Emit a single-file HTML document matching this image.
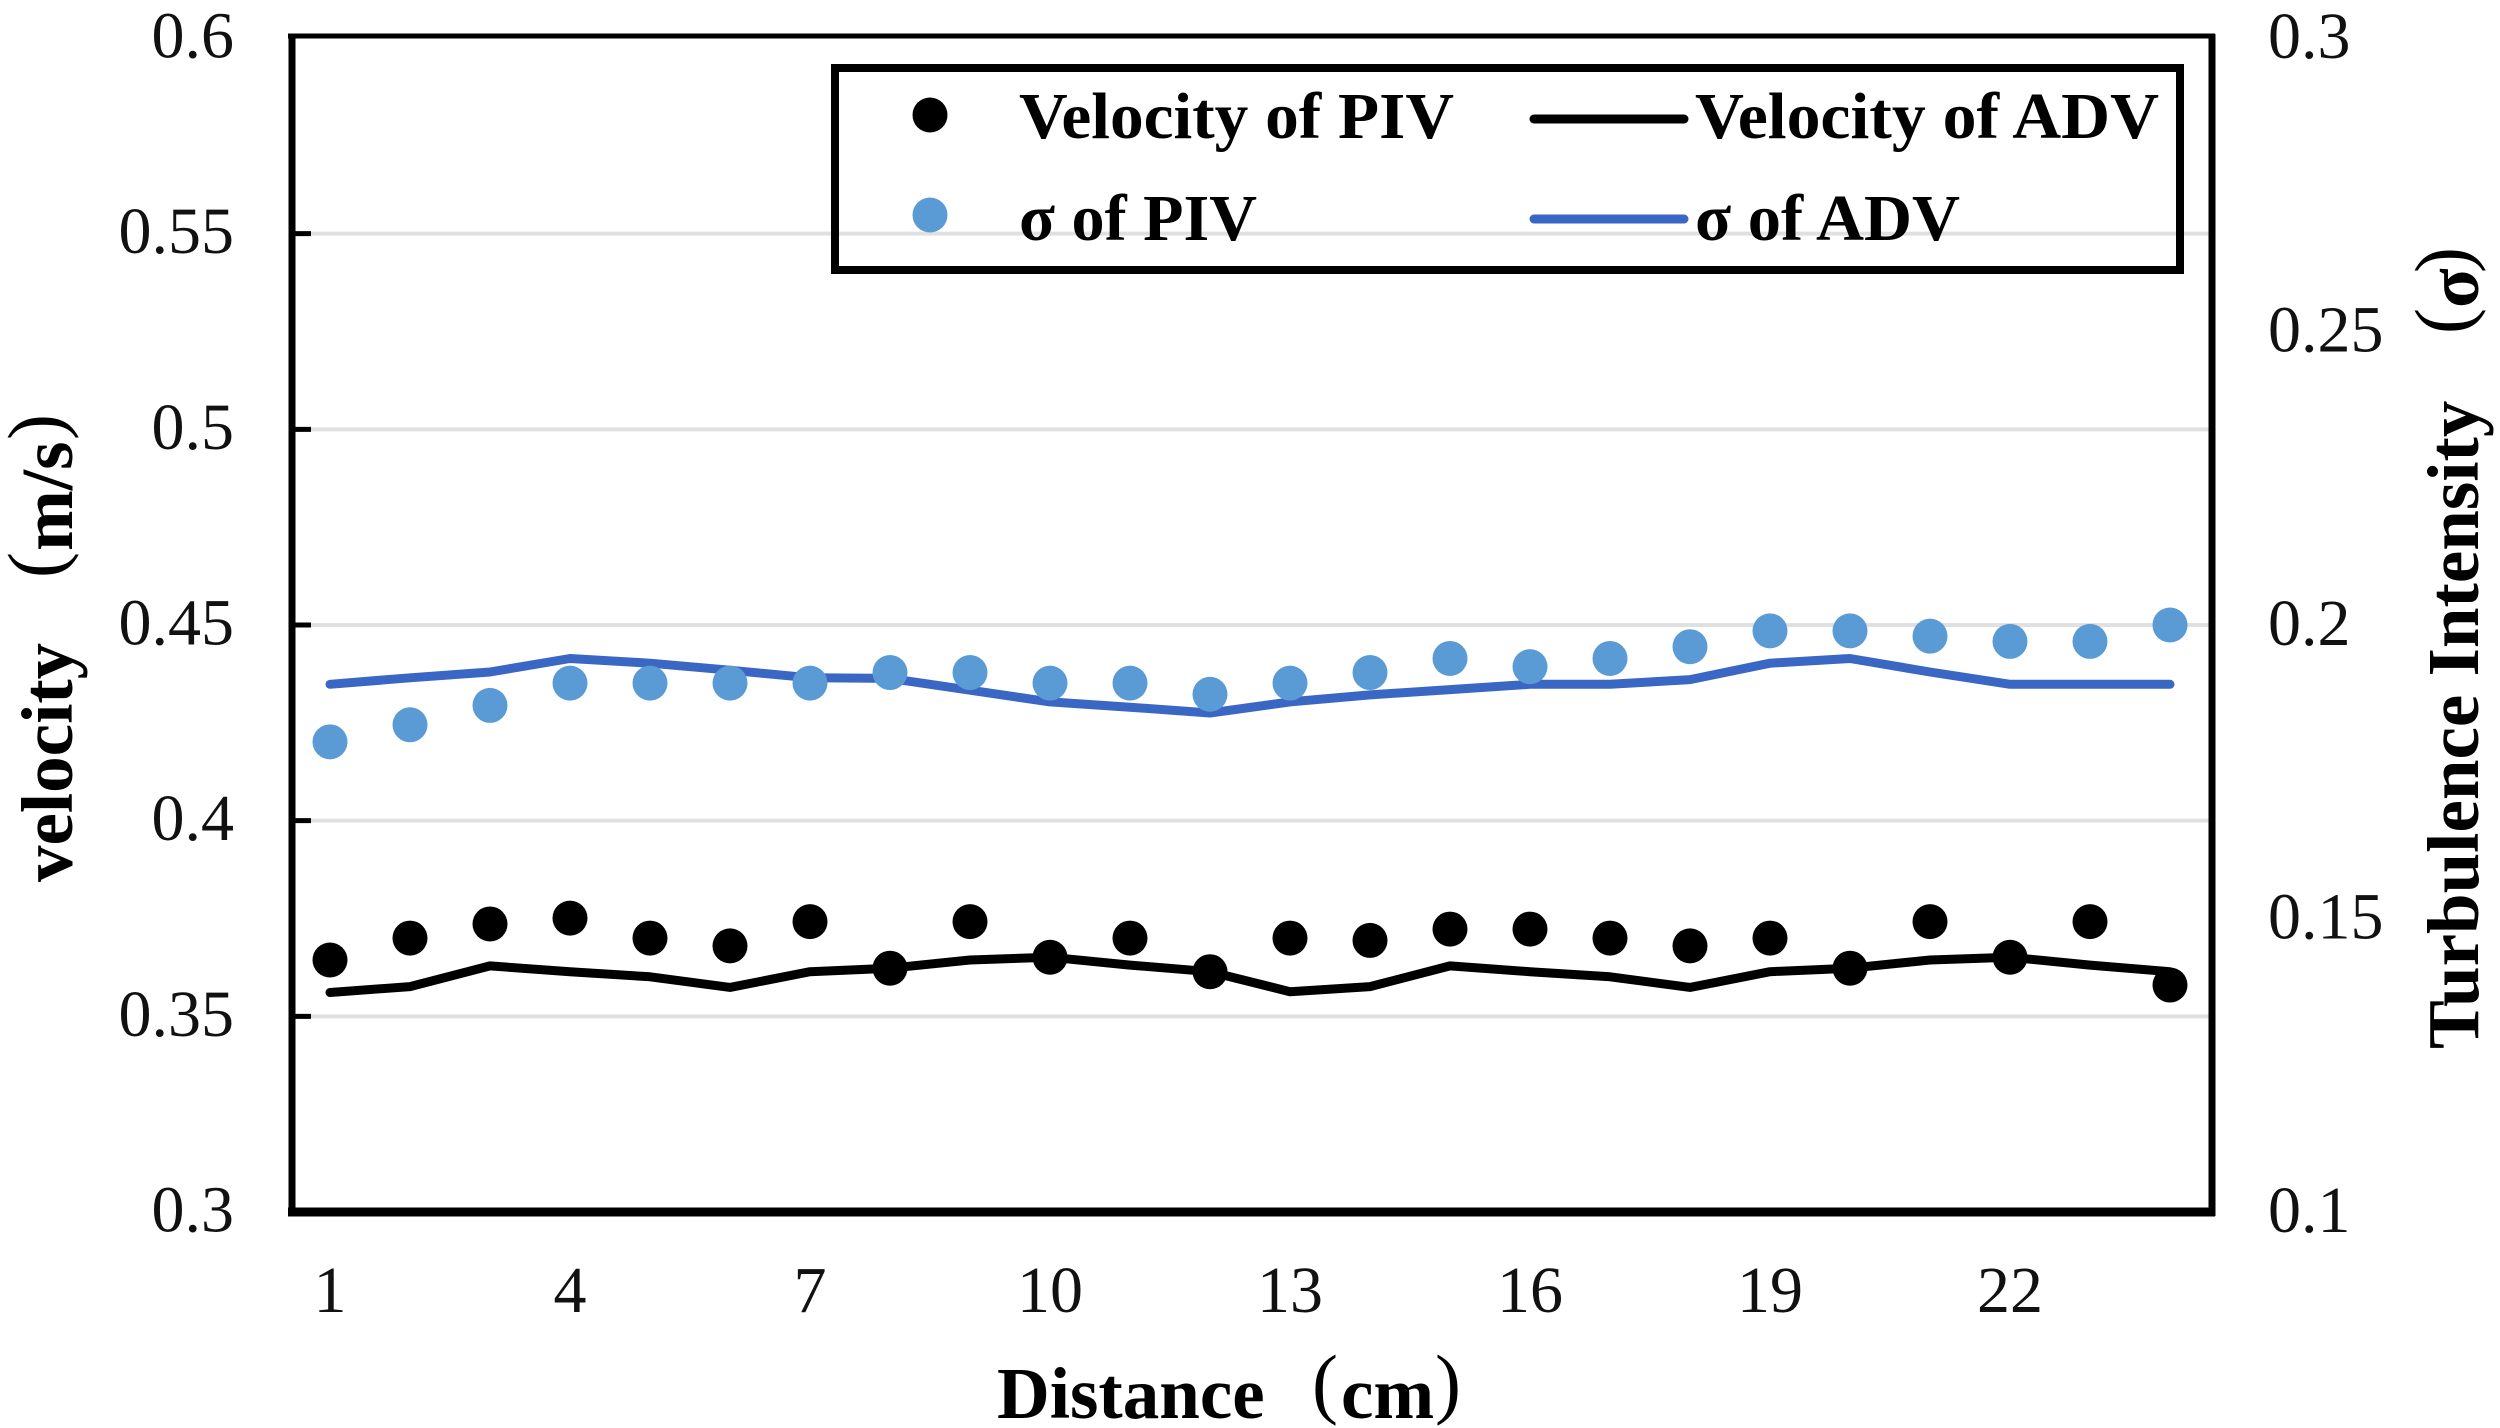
<!DOCTYPE html>
<html lang="en">
<head>
<meta charset="utf-8">
<title>Velocity and turbulence intensity: PIV vs ADV</title>
<style>
html,body{margin:0;padding:0;background:#fff;width:2500px;height:1428px;overflow:hidden}
svg{display:block}
text{font-family:"Liberation Serif","Noto Serif CJK SC",serif;fill:#000}
.tick{font-size:66px;fill:#111}
.title{font-size:73px;font-weight:bold}
.paren{font-size:78px;font-weight:normal}
.leg{font-size:66px;font-weight:bold}
</style>
</head>
<body>
<svg id="chart" xmlns="http://www.w3.org/2000/svg" width="2500" height="1428" viewBox="0 0 2500 1428">
  <rect x="0" y="0" width="2500" height="1428" fill="#fff"/>
  <g id="grid"></g>
  <g id="series"></g>
  <g id="frame">
    <line x1="288" y1="36" x2="2215" y2="36" stroke="#000" stroke-width="5"/>
    <line x1="292" y1="34" x2="292" y2="1216" stroke="#000" stroke-width="7"/>
    <line x1="2212" y1="34" x2="2212" y2="1216" stroke="#000" stroke-width="7"/>
    <line x1="288" y1="1212" x2="2215" y2="1212" stroke="#000" stroke-width="9"/>
  </g>
  <g id="ticks"></g>
  <g id="legend">
    <rect x="835" y="68" width="1345" height="202" fill="none" stroke="#000" stroke-width="8"/>
    <g>
      <circle cx="930" cy="115" r="17.5" fill="#000"/>
      <text class="leg" x="1019" y="138" textLength="435" lengthAdjust="spacingAndGlyphs">Velocity of PIV</text>
    </g>
    <g>
      <line x1="1534" y1="119" x2="1684" y2="119" stroke="#000" stroke-width="9" stroke-linecap="round"/>
      <text class="leg" x="1695" y="138" textLength="464" lengthAdjust="spacingAndGlyphs">Velocity of ADV</text>
    </g>
    <g>
      <circle cx="930" cy="215" r="17.5" fill="#5b9bd5"/>
      <text class="leg" x="1019" y="240" textLength="238" lengthAdjust="spacingAndGlyphs">σ of PIV</text>
    </g>
    <g>
      <line x1="1534" y1="219" x2="1684" y2="219" stroke="#3a66c4" stroke-width="9" stroke-linecap="round"/>
      <text class="leg" x="1695" y="240" textLength="265" lengthAdjust="spacingAndGlyphs">σ of ADV</text>
    </g>
  </g>
  <text class="title" transform="translate(997,1418)"><tspan x="0" y="0">Distance</tspan><tspan class="paren" x="315" y="-9">(</tspan><tspan x="344" y="0">cm</tspan><tspan class="paren" x="438" y="-9">)</tspan></text>
  <text class="title" transform="translate(72,882) rotate(-90)"><tspan x="0" y="0">velocity</tspan><tspan class="paren" x="304" y="-10">(</tspan><tspan x="331" y="0">m/s</tspan><tspan class="paren" x="442" y="-10">)</tspan></text>
  <text class="title" transform="translate(2478,1049) rotate(-90)"><tspan x="0" y="0">Turbulence Intensity</tspan><tspan class="paren" x="715" y="-9">(</tspan><tspan x="741" y="0">σ</tspan><tspan class="paren" x="776" y="-9">)</tspan></text>
</svg>
<script>
const categories = [1,2,3,4,5,6,7,8,9,10,11,12,13,14,15,16,17,18,19,20,21,22,23,24];
const xTickLabels = ["1","4","7","10","13","16","19","22"];
const leftTickValues = [0.3,0.35,0.4,0.45,0.5,0.55,0.6];
const leftTickLabels = ["0.3","0.35","0.4","0.45","0.5","0.55","0.6"];
const rightTickValues = [0.1,0.15,0.2,0.25,0.3];
const rightTickLabels = ["0.1","0.15","0.2","0.25","0.3"];
const velocityPIV = [0.3644,0.370,0.3736,0.3751,0.370,0.368,0.3742,0.3623,0.3742,0.3651,0.370,0.3614,0.370,0.3694,0.3723,0.3723,0.370,0.368,0.370,0.3623,0.3742,0.3651,0.3742,0.358];
const velocityADV = [0.3561,0.3576,0.3629,0.3614,0.3601,0.3574,0.3614,0.3623,0.3644,0.3651,0.3631,0.3614,0.3563,0.3576,0.3629,0.3614,0.3601,0.3574,0.3614,0.3623,0.3644,0.3651,0.3631,0.3614];
const sigmaPIV = [0.1801,0.183,0.1863,0.1901,0.1901,0.1901,0.1901,0.1919,0.1919,0.1901,0.1901,0.1882,0.1901,0.1919,0.1943,0.1929,0.1943,0.1963,0.199,0.199,0.1981,0.1972,0.1972,0.2];
const sigmaADV = [0.1899,0.191,0.192,0.1943,0.1935,0.1923,0.191,0.1909,0.1889,0.1869,0.186,0.185,0.1869,0.1881,0.189,0.1899,0.1899,0.1907,0.1935,0.1943,0.192,0.1899,0.1899,0.1899];

const NS = "http://www.w3.org/2000/svg";
const plotLeft = 290, plotRight = 2210, plotBottom = 1212, plotTop = 38;
const leftMin = leftTickValues[0], leftMax = leftTickValues[leftTickValues.length - 1];
const rightMin = rightTickValues[0], rightMax = rightTickValues[rightTickValues.length - 1];
const firstCat = categories[0];
const bandWidth = (plotRight - plotLeft) / categories.length;

function xScale(cat) { return plotLeft + bandWidth * (cat - firstCat + 0.5); }
function yLeft(v) { return plotBottom - (v - leftMin) / (leftMax - leftMin) * (plotBottom - plotTop); }
function yRight(v) { return plotBottom - (v - rightMin) / (rightMax - rightMin) * (plotBottom - plotTop); }
function make(tag, attrs, parent, txt) {
  const el = document.createElementNS(NS, tag);
  for (const k in attrs) el.setAttribute(k, attrs[k]);
  if (txt !== undefined) el.textContent = txt;
  parent.appendChild(el);
  return el;
}

const grid = document.getElementById("grid");
const ticks = document.getElementById("ticks");
const series = document.getElementById("series");

leftTickValues.forEach(function (v, i) {
  const y = yLeft(v);
  if (i > 0 && i < leftTickValues.length - 1) {
    const g = make("line", {x1: plotLeft, x2: plotRight, y1: y, y2: y, stroke: "#e0e0e0", "stroke-width": 4}, grid);
    
    
    const t = make("line", {x1: plotLeft, x2: plotLeft + 21, y1: y, y2: y, stroke: "#000", "stroke-width": 5}, ticks);
    
    
  }
  const lab = make("text", {class: "tick", x: 234, y: y + 19.5, "text-anchor": "end"}, ticks, leftTickLabels[i]);
  
  
});

rightTickValues.forEach(function (v, i) {
  const lab = make("text", {class: "tick", x: 2268, y: yRight(v) + 20}, ticks, rightTickLabels[i]);
  
  
});

xTickLabels.forEach(function (s) {
  const lab = make("text", {class: "tick", x: xScale(Number(s)), y: 1312, "text-anchor": "middle"}, ticks, s);
  
  
});

function pathFor(values, yFn) {
  return values.map(function (v, i) {
    return (i ? "L" : "M") + xScale(categories[i]).toFixed(1) + " " + yFn(v).toFixed(1);
  }).join(" ");
}

const lineVel = make("path", {d: pathFor(velocityADV, yLeft), fill: "none", stroke: "#000", "stroke-width": 9, "stroke-linecap": "round", "stroke-linejoin": "round"}, series);



const lineSig = make("path", {d: pathFor(sigmaADV, yRight), fill: "none", stroke: "#3a66c4", "stroke-width": 9, "stroke-linecap": "round", "stroke-linejoin": "round"}, series);



velocityPIV.forEach(function (v, i) {
  const c = make("circle", {cx: xScale(categories[i]), cy: yLeft(v), r: 17.5, fill: "#000"}, series);
  
  
});

sigmaPIV.forEach(function (v, i) {
  const c = make("circle", {cx: xScale(categories[i]), cy: yRight(v), r: 17.5, fill: "#5b9bd5"}, series);
  
  
});
</script>
</body>
</html>
